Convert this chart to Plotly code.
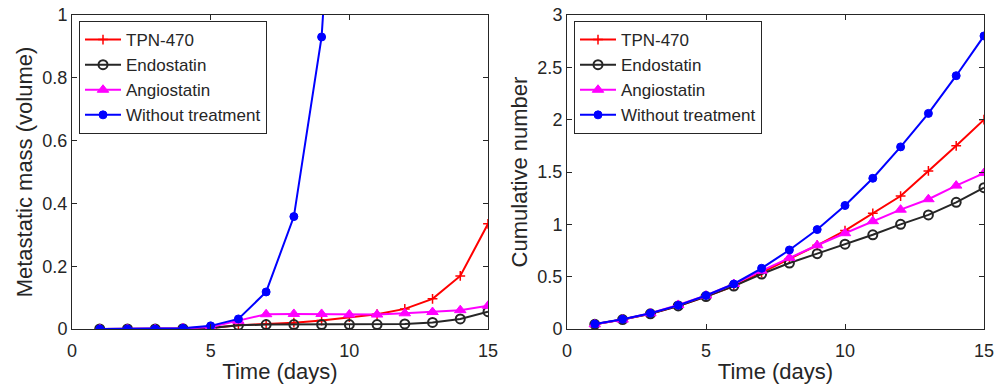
import plotly.graph_objects as go

days = list(range(1, 16))
days_wt_left = list(range(1, 11))

# Left panel: metastatic mass (volume)
mass_tpn = [0.0, 0.0, 0.0, 0.001, 0.003, 0.012, 0.016, 0.02, 0.027, 0.038, 0.047, 0.064, 0.096, 0.169, 0.335]
mass_endo = [0.0, 0.0, 0.0, 0.001, 0.003, 0.012, 0.014, 0.014, 0.014, 0.014, 0.014, 0.016, 0.021, 0.032, 0.055]
mass_angio = [0.0, 0.0, 0.0, 0.002, 0.006, 0.026, 0.047, 0.048, 0.048, 0.046, 0.046, 0.05, 0.054, 0.06, 0.074]
mass_wt = [0.0, 0.0, 0.0, 0.002, 0.01, 0.032, 0.118, 0.358, 0.93, 2.3]

# Right panel: cumulative number
cum_tpn = [0.045, 0.09, 0.145, 0.22, 0.31, 0.41, 0.54, 0.67, 0.80, 0.94, 1.105, 1.27, 1.51, 1.75, 2.0]
cum_endo = [0.045, 0.09, 0.145, 0.22, 0.31, 0.41, 0.525, 0.63, 0.72, 0.81, 0.90, 1.0, 1.09, 1.21, 1.35]
cum_angio = [0.045, 0.09, 0.15, 0.23, 0.32, 0.43, 0.557, 0.68, 0.80, 0.915, 1.03, 1.14, 1.24, 1.37, 1.49]
cum_wt = [0.048, 0.093, 0.15, 0.226, 0.32, 0.43, 0.58, 0.755, 0.95, 1.18, 1.44, 1.74, 2.06, 2.42, 2.80]

names = ["TPN-470", "Endostatin", "Angiostatin", "Without treatment"]
colors = ["#ff0000", "#262626", "#ff00ff", "#0000ff"]
symbols = ["cross-thin", "circle-open", "triangle-up", "circle"]
sizes = [7, 9, 10, 8]
mlw = [1.5, 2, 1, 1]

fig = go.Figure()

def add(x, y, i, xa, ya, leg):
    fig.add_trace(go.Scatter(
        x=x, y=y, name=names[i], mode="lines+markers",
        line=dict(color=colors[i], width=2),
        marker=dict(symbol=symbols[i], size=sizes[i], color=colors[i],
                    line=dict(color=colors[i], width=mlw[i])),
        xaxis=xa, yaxis=ya, legend=leg, cliponaxis=True,
    ))

left = [(days, mass_tpn), (days, mass_endo), (days, mass_angio), (days_wt_left, mass_wt)]
right = [(days, cum_tpn), (days, cum_endo), (days, cum_angio), (days, cum_wt)]
for i, (x, y) in enumerate(left):
    add(x, y, i, "x", "y", "legend")
for i, (x, y) in enumerate(right):
    add(x, y, i, "x2", "y2", "legend2")

axfont = dict(family="Liberation Sans, Arial", size=18, color="#262626")
titlefont = dict(family="Liberation Sans, Arial", size=22, color="#262626")
common = dict(showline=True, linecolor="#262626", linewidth=1, mirror="ticks",
              ticks="inside", ticklen=5, tickcolor="#262626", showgrid=False,
              zeroline=False, tickfont=axfont, automargin=False)
xcommon = dict(common, ticklabelstandoff=5)

y_dom = [1 - 329 / 391, 1 - 15 / 391]
legfont = dict(family="Liberation Sans, Arial", size=17, color="#262626")
fig.update_layout(
    width=996, height=391, margin=dict(l=0, r=0, t=0, b=0),
    plot_bgcolor="white", paper_bgcolor="white",
    xaxis=dict(domain=[72 / 996, 488 / 996], range=[0, 15], tickvals=[0, 5, 10, 15],
               title=dict(text="Time (days)", font=titlefont, standoff=4), anchor="y", **xcommon),
    yaxis=dict(domain=y_dom, range=[0, 1], tickvals=[0, 0.2, 0.4, 0.6, 0.8, 1],
               title=dict(text="Metastatic mass (volume)", font=titlefont, standoff=3), anchor="x", **common),
    xaxis2=dict(domain=[567 / 996, 984 / 996], range=[0, 15], tickvals=[0, 5, 10, 15],
                title=dict(text="Time (days)", font=titlefont, standoff=4), anchor="y2", **xcommon),
    yaxis2=dict(domain=y_dom, range=[0, 3], tickvals=[0, 0.5, 1, 1.5, 2, 2.5, 3],
                title=dict(text="Cumulative number", font=titlefont, standoff=3), anchor="x2", **common),
    legend=dict(x=79 / 996, y=1 - 21 / 391, xanchor="left", yanchor="top",
                bgcolor="white", bordercolor="#262626", borderwidth=1,
                font=legfont, itemwidth=36, tracegroupgap=0),
    legend2=dict(x=574 / 996, y=1 - 21 / 391, xanchor="left", yanchor="top",
                 bgcolor="white", bordercolor="#262626", borderwidth=1,
                 font=legfont, itemwidth=36, tracegroupgap=0),
    showlegend=True,
)

fig.write_html("out.html", config={"displayModeBar": False},
               post_script="document.body.style.margin='0';document.body.style.overflow='hidden';")
